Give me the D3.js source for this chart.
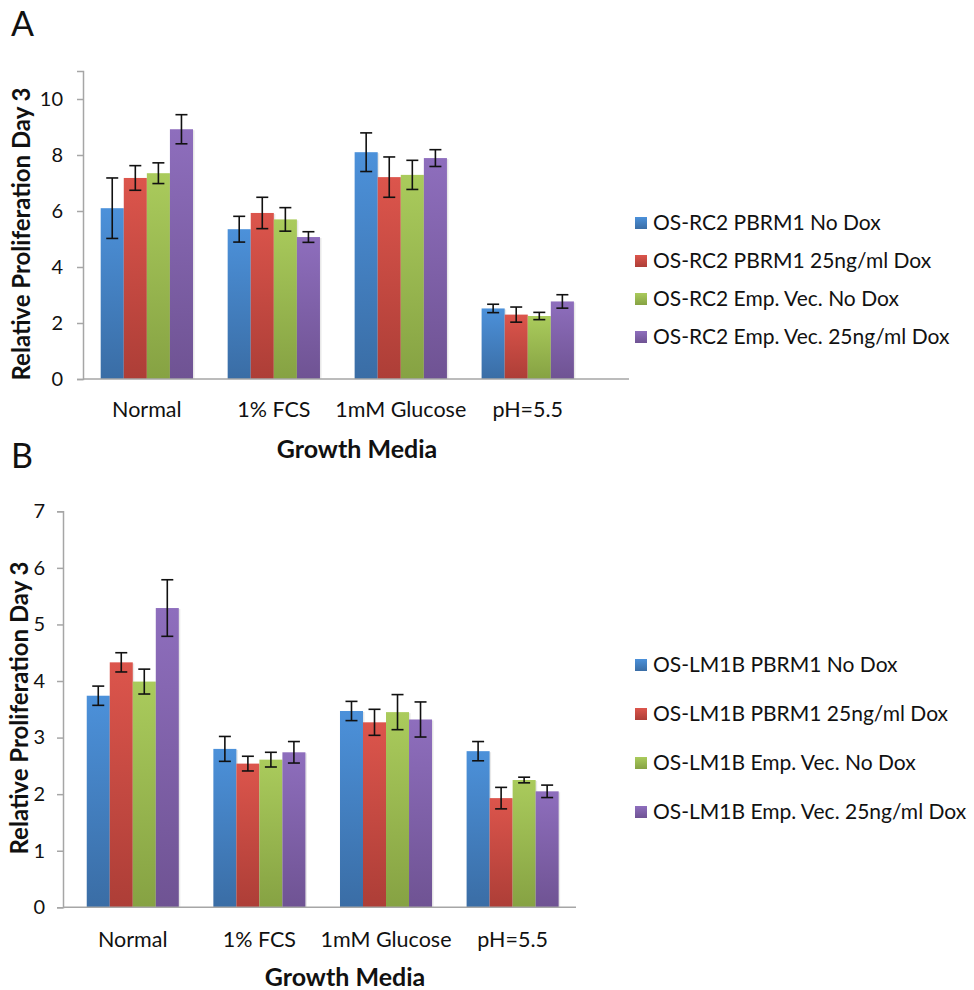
<!DOCTYPE html>
<html>
<head>
<meta charset="utf-8">
<script src="https://cdn.jsdelivr.net/npm/d3@7"></script>
<style>
  html, body { margin: 0; padding: 0; background: #fff; }
  svg { display: block; }
  text { font-family: Lato, "Open Sans", sans-serif; fill: #111; }
</style>
</head>
<body>
<svg id="chart" width="974" height="990"></svg>
<script>
// Growth media conditions (x categories)
const media = ["Normal", "1% FCS", "1mM Glucose", "pH=5.5"];

// Panel A: OS-RC2
const seriesA = ["OS-RC2 PBRM1 No Dox", "OS-RC2 PBRM1 25ng/ml Dox", "OS-RC2 Emp. Vec. No Dox", "OS-RC2 Emp. Vec. 25ng/ml Dox"];
const meanA = [
  [6.10, 7.18, 7.35, 8.92],
  [5.35, 5.93, 5.70, 5.07],
  [8.10, 7.21, 7.29, 7.89],
  [2.52, 2.30, 2.25, 2.77]
];
const errA = [
  [1.08, 0.44, 0.37, 0.52],
  [0.46, 0.56, 0.42, 0.19],
  [0.69, 0.72, 0.52, 0.30],
  [0.15, 0.27, 0.13, 0.24]
];
const ticksA = [0, 2, 4, 6, 8, 10];

// Panel B: OS-LM1B
const seriesB = ["OS-LM1B PBRM1 No Dox", "OS-LM1B PBRM1 25ng/ml Dox", "OS-LM1B Emp. Vec. No Dox", "OS-LM1B Emp. Vec. 25ng/ml Dox"];
const meanB = [
  [3.74, 4.33, 3.99, 5.29],
  [2.80, 2.54, 2.61, 2.74],
  [3.47, 3.27, 3.45, 3.32],
  [2.76, 1.93, 2.25, 2.05]
];
const errB = [
  [0.17, 0.17, 0.22, 0.50],
  [0.22, 0.13, 0.13, 0.19],
  [0.17, 0.23, 0.31, 0.31],
  [0.17, 0.19, 0.05, 0.11]
];
const ticksB = [0, 1, 2, 3, 4, 5, 6, 7];

// Fill gradients per series: lighter at the top, darker at the bottom
const palette = [
  { top: "#4c91da", bottom: "#3a6da5" },
  { top: "#dc554c", bottom: "#ad3e37" },
  { top: "#aacb5c", bottom: "#86a243" },
  { top: "#8e6ebd", bottom: "#6f5393" }
];

const svg = d3.select("#chart");
const defs = svg.append("defs");
palette.forEach((c, i) => {
  const g = defs.append("linearGradient")
    .attr("id", "grad" + i).attr("x1", 0).attr("y1", 0).attr("x2", 0).attr("y2", 1);
  g.append("stop").attr("offset", "0%").attr("stop-color", c.top);
  g.append("stop").attr("offset", "100%").attr("stop-color", c.bottom);
});

function panel(cfg) {
  const g = svg.append("g");
  const y = d3.scaleLinear().domain(cfg.yDomain).range([cfg.y0, cfg.yTop]);
  const x0 = d3.scaleBand().domain(media).range(cfg.xRange)
    .paddingInner(0.273).paddingOuter(0.137);
  const x1 = d3.scaleBand().domain(d3.range(cfg.series.length)).range([0, x0.bandwidth()]);

  // y axis
  const yAxis = d3.axisLeft(y).tickValues(cfg.ticks).tickSize(6).tickPadding(cfg.tickPad)
    .tickFormat(d3.format("d"));
  const ya = g.append("g").attr("transform", `translate(${cfg.axisX},0)`).call(yAxis);
  ya.select(".domain").attr("stroke", "#a6a6a6").attr("stroke-width", 1.5);
  ya.selectAll(".tick line").attr("stroke", "#a6a6a6").attr("stroke-width", 1.5);
  ya.selectAll(".tick text").attr("font-size", 20).attr("fill", "#111")
    .attr("font-family", "Lato, 'Open Sans', sans-serif");

  // bars
  cfg.means.forEach((row, ci) => {
    const grp = g.append("g").attr("transform", `translate(${x0(media[ci])},0)`);
    row.forEach((v, si) => {
      grp.append("rect")
        .attr("x", x1(si) + 1.5).attr("y", y(v) + 1)
        .attr("width", x1.bandwidth()).attr("height", cfg.y0 - y(v) - 1)
        .attr("fill", "#d8d8d8").attr("opacity", 0.6);
      grp.append("rect")
        .attr("x", x1(si)).attr("y", y(v))
        .attr("width", x1.bandwidth()).attr("height", cfg.y0 - y(v))
        .attr("fill", `url(#grad${si})`);
    });
  });

  // baseline
  g.append("line").attr("x1", cfg.axisX).attr("x2", cfg.baseEnd)
    .attr("y1", cfg.y0).attr("y2", cfg.y0)
    .attr("stroke", "#a6a6a6").attr("stroke-width", 1.5);

  // error bars
  cfg.means.forEach((row, ci) => {
    row.forEach((v, si) => {
      const e = cfg.errs[ci][si];
      const cx = x0(media[ci]) + x1(si) + x1.bandwidth() / 2;
      const eb = g.append("g").attr("stroke", "#111").attr("stroke-width", 1.6);
      eb.append("line").attr("x1", cx).attr("x2", cx).attr("y1", y(v + e)).attr("y2", y(v - e));
      eb.append("line").attr("x1", cx - 6).attr("x2", cx + 6).attr("y1", y(v + e)).attr("y2", y(v + e));
      eb.append("line").attr("x1", cx - 6).attr("x2", cx + 6).attr("y1", y(v - e)).attr("y2", y(v - e));
    });
  });

  // category labels
  g.selectAll(".cat").data(media).enter().append("text")
    .attr("x", d => x0(d) + x0.bandwidth() / 2).attr("y", cfg.catY)
    .attr("text-anchor", "middle").attr("font-size", 21.5).text(d => d);

  // axis titles
  g.append("text").attr("x", cfg.xTitleX).attr("y", cfg.xTitleY)
    .attr("text-anchor", "middle").attr("font-size", 25).attr("font-weight", 700)
    .text("Growth Media");
  g.append("text")
    .attr("transform", `translate(${cfg.yTitleX},${cfg.yTitleY}) rotate(-90)`)
    .attr("text-anchor", "middle").attr("font-size", 24).attr("font-weight", 700)
    .text("Relative Proliferation Day 3");

  // panel letter
  g.append("text").attr("x", 11).attr("y", cfg.letterY)
    .attr("font-family", "'Liberation Sans', Arial, sans-serif").attr("font-size", 34)
    .text(cfg.letter);

  // legend
  const lg = g.append("g");
  cfg.series.forEach((s, i) => {
    const ly = cfg.legendY + i * cfg.legendStep;
    lg.append("rect").attr("x", 635).attr("y", ly - 6).attr("width", 12).attr("height", 12)
      .attr("fill", `url(#grad${i})`);
    lg.append("text").attr("x", 653).attr("y", ly).attr("dy", "0.35em")
      .attr("font-size", 21).text(s);
  });
}

panel({
  letter: "A", letterY: 36,
  series: seriesA, means: meanA, errs: errA, ticks: ticksA,
  yDomain: [0, 11], y0: 379, yTop: 71,
  axisX: 83, xRange: [83.3, 591.3], baseEnd: 629, tickPad: 14,
  catY: 417, xTitleX: 357, xTitleY: 458,
  yTitleX: 30, yTitleY: 234,
  legendY: 223, legendStep: 38
});

panel({
  letter: "B", letterY: 468,
  series: seriesB, means: meanB, errs: errB, ticks: ticksB,
  yDomain: [0, 7], y0: 907.3, yTop: 511.3,
  axisX: 63, xRange: [69.4, 576], baseEnd: 576, tickPad: 12,
  catY: 947, xTitleX: 345, xTitleY: 986,
  yTitleX: 28, yTitleY: 708,
  legendY: 665, legendStep: 49
});
</script>
</body>
</html>
